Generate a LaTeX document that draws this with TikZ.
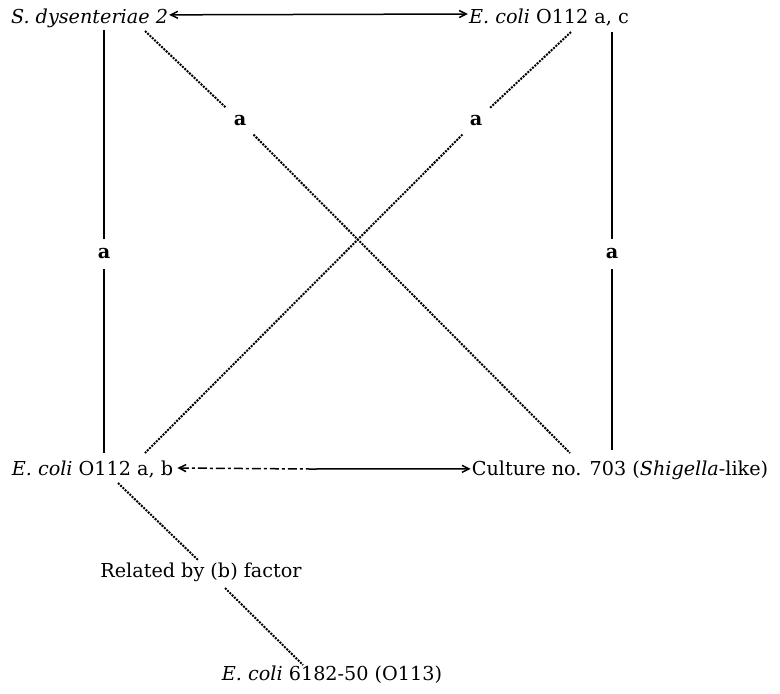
\documentclass[tikz,border=0pt]{standalone}
\usepackage{fontspec}
\setmainfont{DejaVu Serif}
\usetikzlibrary{arrows.meta}
\begin{document}
\begin{tikzpicture}[x=1pt,y=-1pt,
  txt/.style={inner sep=0pt, anchor=base, font=\fontsize{19.2}{23}\selectfont},
  lab/.style={circle, inner sep=0pt, minimum size=30pt, font=\fontsize{19.2}{23}\selectfont\bfseries},
  dlab/.style={lab, minimum size=38pt},
  solidline/.style={line width=2pt},
  dotline/.style={line width=2pt, dash pattern=on 2pt off 1.2pt},
  tip/.tip={Straight Barb[length=7pt,width=7pt]},
  arr/.style={line width=1.5pt}
]
\useasboundingbox (0,0) rectangle (780,694);
% nodes
\node[txt] (sd)   at (89.5,23)  {\textit{S. dysenteriae 2}};
\node[txt] (ecac) at (549,23)   {\textit{E. coli} O112 a, c};
\node[txt] (ecab) at (92.5,475) {\textit{E. coli} O112 a, b};
\node[txt] (cul)  at (620,475)  {Culture no. 703 (\textit{Shigella}-like)};
\node[txt] (rel)  at (201,577)  {Related by (b) factor};
\node[txt] (e113) at (332,680)  {\textit{E. coli} 6182-50 (O113)};
% labels
\node[dlab] (la1) at (240,121) {a};
\node[dlab] (la2) at (476,121) {a};
\node[lab]  (la3) at (104,254) {a};
\node[lab]  (la4) at (612,254) {a};
% line ends
\coordinate (v1a) at (104,30);
\coordinate (v1b) at (104,453);
\coordinate (v2a) at (612,32);
\coordinate (v2b) at (612,450);
\coordinate (d1a) at (145,31);
\coordinate (d1b) at (570,453);
\coordinate (d2a) at (571,32);
\coordinate (d2b) at (145,453);
\coordinate (r1a) at (118,483);
\coordinate (r1b) at (198,560);
\coordinate (r2a) at (225,588);
\coordinate (r2b) at (303,665);
\coordinate (mid) at (310,469);
% connectors
\draw[solidline] (v1a) -- (la3) -- (v1b);
\draw[solidline] (v2a) -- (la4) -- (v2b);
\draw[dotline] (d1a) -- (la1) -- (d1b);
\draw[dotline] (d2a) -- (la2) -- (d2b);
\draw[dotline] (r1a) -- (r1b);
\draw[dotline] (r2a) -- (r2b);
\draw[arr,{tip}-{tip}] ([xshift=1pt,yshift=3pt]sd.east) -- ([xshift=-1pt,yshift=3pt]ecac.west);
\draw[arr,{tip}-,dash pattern=on 9pt off 3pt on 3pt off 3pt] ([xshift=4pt,yshift=1pt]ecab.east) -- (mid);
\draw[arr,-{tip}] (mid) -- ([xshift=-1pt,yshift=1pt]cul.west);
\end{tikzpicture}
\end{document}
